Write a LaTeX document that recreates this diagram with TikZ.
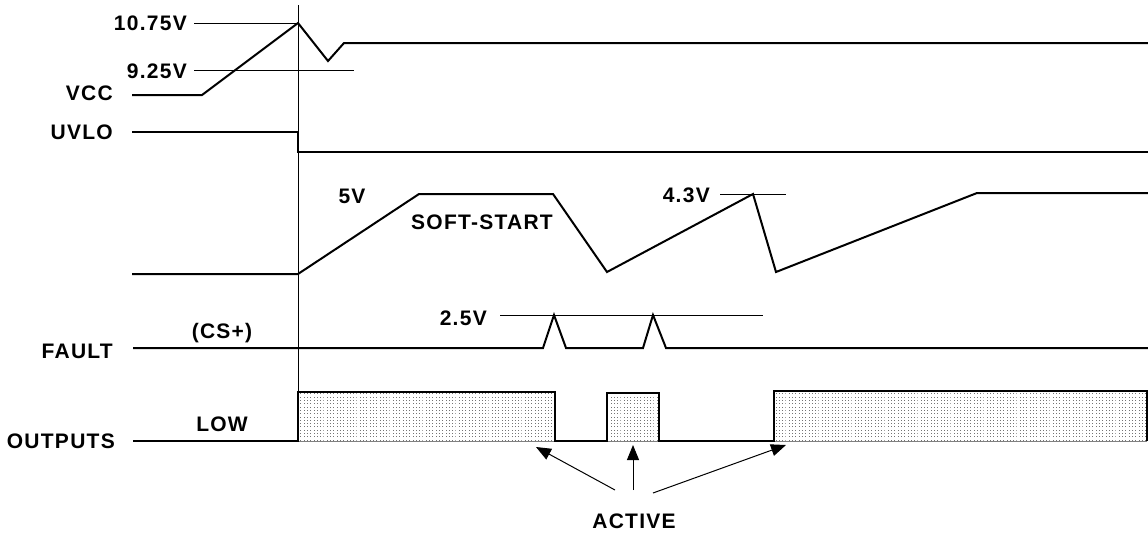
\documentclass[tikz,border=0pt]{standalone}
\usepackage{fontspec}
\setmainfont{Liberation Sans}[LetterSpace=6]
\usetikzlibrary{arrows.meta,patterns.meta}
\tikzdeclarepattern{
  name=sparsedots,
  type=uncolored,
  bottom left={(-.1pt,-.1pt)},
  top right={(3.3pt,3.3pt)},
  tile size={(3.3pt,3.3pt)},
  code={\fill (0pt,0pt) rectangle (1pt,1pt);}
}
\begin{document}
\begin{tikzpicture}[x=1pt,y=-1pt,
  sig/.style={line width=2pt, line join=miter},
  thinline/.style={line width=1pt},
  lbl/.style={font=\fontsize{21}{25}\selectfont\bfseries, inner sep=0pt},
  arr/.style={line width=1pt, -{Triangle[length=15pt,width=12pt]}},
  dotfill/.style={pattern=sparsedots, pattern color=black!55}]
\useasboundingbox (0,0) rectangle (1148,533);

% left labels
\node[lbl, anchor=east] (vcc) at (113,93) {VCC};
\node[lbl, anchor=east] (uvlo) at (113,132.5) {UVLO};
\node[lbl, anchor=east] (fault) at (113,351) {FAULT};
\node[lbl, anchor=east] (outputs) at (115,441) {OUTPUTS};

% reference vertical line
\draw[thinline] (298,5) -- (298,392);

% VCC
\node[lbl, anchor=east] (v1075) at (187,23) {10.75V};
\node[lbl, anchor=east] (v925) at (187,71) {9.25V};
\draw[thinline] (194,23) -- (298,23);
\draw[thinline] (194,70) -- (354,70);
\draw[sig] (132,95) -- (202,95) -- (298,23) -- (328,61) -- (344,43) -- (1148,43);

% UVLO
\draw[sig] (132,132) -- (298,132) -- (298,152) -- (1148,152);

% soft start
\node[lbl] (v5) at (352,196) {5V};
\node[lbl] (ss) at (482,222) {SOFT-START};
\node[lbl, anchor=east] (v43) at (710,195) {4.3V};
\draw[thinline] (720,194) -- (786,194);
\draw[sig] (132,274) -- (298,274) -- (419,194) -- (553,194) -- (607,272) -- (753,194) -- (776,272) -- (977,193) -- (1148,193);

% fault
\node[lbl] (cs) at (222,333) {(CS+)};
\node[lbl, anchor=east] (v25) at (487,318) {2.5V};
\draw[thinline] (500,315) -- (763,315);
\draw[sig] (133,348) -- (543,348) -- (554,315) -- (566,348) -- (643,348) -- (653,315) -- (666,348) -- (1148,348);

% outputs
\node[lbl] (low) at (222,424) {LOW};
\fill[dotfill] (298,441) rectangle (555,392);
\fill[dotfill] (607,441) rectangle (659,393);
\fill[dotfill] (774,441) rectangle (1147,391);
\draw[thinline, gray] (298,441) -- (555,441) (607,441) -- (659,441) (774,441) -- (1147,441);
\draw[sig] (133,441) -- (298,441) -- (298,392) -- (555,392) -- (555,441) -- (607,441) -- (607,393) -- (659,393) -- (659,441) -- (774,441) -- (774,391) -- (1147,391) -- (1147,441);

% active arrows
\node[lbl] (active) at (634,521) {ACTIVE};
\coordinate (a1s) at (615,490);
\coordinate (a2s) at (633,490);
\coordinate (a3s) at (653,493);
\coordinate (t1) at (536,447);
\coordinate (t2) at (633,445);
\coordinate (t3) at (786,445);
\draw[arr] (a1s) -- (t1);
\draw[arr] (a2s) -- (t2);
\draw[arr] (a3s) -- (t3);
\end{tikzpicture}
\end{document}
